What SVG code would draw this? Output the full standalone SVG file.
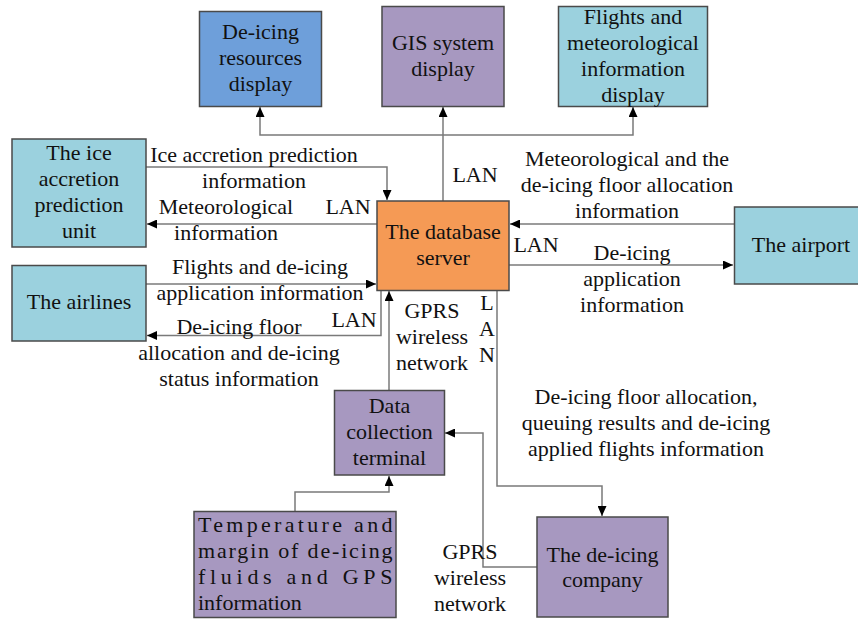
<svg xmlns="http://www.w3.org/2000/svg" width="858" height="619" viewBox="0 0 858 619" font-family="Liberation Serif">
<defs>
<marker id="arr" markerUnits="userSpaceOnUse" markerWidth="11" markerHeight="9" refX="10" refY="4.5" orient="auto">
<path d="M0,0 L10,4.5 L0,9 z" fill="#000"/>
</marker>
<style>
.box{stroke:#4a4a4a;stroke-width:1.5}
.blue{fill:#6E9FDA}
.orange{fill:#F59A55}
.purple{fill:#A798C0}
.cyan{fill:#9BD1DE}
.t{font-size:22px;fill:#111}
.c{text-anchor:middle}
.con path{fill:none;stroke:#7a7a7a;stroke-width:1.5}
.arrow{marker-end:url(#arr)}
</style>
</defs>
<rect width="858" height="619" fill="#fff"/>

<g class="con" id="connectors">
<path class="arrow" d="M443,201 V107"/>
<path class="arrow" d="M443,135 H260 V107"/>
<path class="arrow" d="M443,135 H633 V107"/>
<path class="arrow" d="M146,167 H387 V200"/>
<path class="arrow" d="M377,224 H147"/>
<path class="arrow" d="M146,284 H376"/>
<path class="arrow" d="M381,291 V335.5 H147"/>
<path class="arrow" d="M389,390 V291"/>
<path class="arrow" d="M295,511 V492 H389 V476"/>
<path class="arrow" d="M497,291 V486 H602 V516"/>
<path class="arrow" d="M537,567 H483 V433 H445"/>
<path class="arrow" d="M734,224 H510"/>
<path class="arrow" d="M509,265 H733"/>
</g>

<g id="labels">
<text class="t c" font-family="Liberation Serif" x="254" y="162">Ice accretion prediction</text>
<text class="t c" font-family="Liberation Serif" x="254" y="188">information</text>
<text class="t c" font-family="Liberation Serif" x="226" y="214">Meteorological</text>
<text class="t c" font-family="Liberation Serif" x="226" y="240">information</text>
<text class="t c" font-family="Liberation Serif" x="348" y="214">LAN</text>
<text class="t c" font-family="Liberation Serif" x="260" y="274">Flights and de-icing</text>
<text class="t c" font-family="Liberation Serif" x="260" y="300">application information</text>
<text class="t c" font-family="Liberation Serif" x="354" y="327">LAN</text>
<text class="t c" font-family="Liberation Serif" x="239" y="334">De-icing floor</text>
<text class="t c" font-family="Liberation Serif" x="239" y="360">allocation and de-icing</text>
<text class="t c" font-family="Liberation Serif" x="239" y="386">status information</text>
<text class="t c" font-family="Liberation Serif" x="432" y="318">GPRS</text>
<text class="t c" font-family="Liberation Serif" x="432" y="344">wireless</text>
<text class="t c" font-family="Liberation Serif" x="432" y="370">network</text>
<text class="t c" font-family="Liberation Serif" x="487" y="310">L</text>
<text class="t c" font-family="Liberation Serif" x="487" y="336">A</text>
<text class="t c" font-family="Liberation Serif" x="487" y="362">N</text>
<text class="t c" font-family="Liberation Serif" x="475" y="182">LAN</text>
<text class="t c" font-family="Liberation Serif" x="627" y="166">Meteorological and the</text>
<text class="t c" font-family="Liberation Serif" x="627" y="192">de-icing floor allocation</text>
<text class="t c" font-family="Liberation Serif" x="627" y="218">information</text>
<text class="t c" font-family="Liberation Serif" x="536" y="252">LAN</text>
<text class="t c" font-family="Liberation Serif" x="632" y="260">De-icing</text>
<text class="t c" font-family="Liberation Serif" x="632" y="286">application</text>
<text class="t c" font-family="Liberation Serif" x="632" y="312">information</text>
<text class="t c" font-family="Liberation Serif" x="646" y="404">De-icing floor allocation,</text>
<text class="t c" font-family="Liberation Serif" x="646" y="430">queuing results and de-icing</text>
<text class="t c" font-family="Liberation Serif" x="646" y="456">applied flights information</text>
<text class="t c" font-family="Liberation Serif" x="470" y="559">GPRS</text>
<text class="t c" font-family="Liberation Serif" x="470" y="585">wireless</text>
<text class="t c" font-family="Liberation Serif" x="470" y="611">network</text>
</g>

<g id="deicing-resources-display">
<rect class="box blue" x="199.5" y="11.5" width="122" height="95"/>
<text class="t c" font-family="Liberation Serif" x="260.5" y="39">De-icing</text>
<text class="t c" font-family="Liberation Serif" x="260.5" y="65">resources</text>
<text class="t c" font-family="Liberation Serif" x="260.5" y="91">display</text>
</g>

<g id="gis-display">
<rect class="box purple" x="382" y="6.5" width="122" height="100"/>
<text class="t c" font-family="Liberation Serif" x="443" y="50">GIS system</text>
<text class="t c" font-family="Liberation Serif" x="443" y="76">display</text>
</g>

<g id="flights-display">
<rect class="box cyan" x="558.5" y="6.5" width="149" height="100"/>
<text class="t c" font-family="Liberation Serif" x="633" y="24">Flights and</text>
<text class="t c" font-family="Liberation Serif" x="633" y="50">meteorological</text>
<text class="t c" font-family="Liberation Serif" x="633" y="76">information</text>
<text class="t c" font-family="Liberation Serif" x="633" y="102">display</text>
</g>

<g id="ice-unit">
<rect class="box cyan" x="12" y="139" width="134" height="108"/>
<text class="t c" font-family="Liberation Serif" x="79" y="160">The ice</text>
<text class="t c" font-family="Liberation Serif" x="79" y="186">accretion</text>
<text class="t c" font-family="Liberation Serif" x="79" y="212">prediction</text>
<text class="t c" font-family="Liberation Serif" x="79" y="238">unit</text>
</g>

<g id="airlines">
<rect class="box cyan" x="12" y="265.5" width="134" height="75.5"/>
<text class="t c" font-family="Liberation Serif" x="79" y="309">The airlines</text>
</g>

<g id="database-server">
<rect class="box orange" x="377" y="201" width="132" height="89.5"/>
<text class="t c" font-family="Liberation Serif" x="443" y="239">The database</text>
<text class="t c" font-family="Liberation Serif" x="443" y="265">server</text>
</g>

<g id="airport">
<rect class="box cyan" x="734.5" y="207" width="140" height="77"/>
<text class="t c" font-family="Liberation Serif" x="801" y="252">The airport</text>
</g>

<g id="data-terminal">
<rect class="box purple" x="334.5" y="390.5" width="110" height="84.5"/>
<text class="t c" font-family="Liberation Serif" x="389.5" y="413">Data</text>
<text class="t c" font-family="Liberation Serif" x="389.5" y="439">collection</text>
<text class="t c" font-family="Liberation Serif" x="389.5" y="465">terminal</text>
</g>

<g id="temperature">
<rect class="box purple" x="194" y="511.5" width="202" height="106"/>
<text class="t" font-family="Liberation Serif" x="198" y="532" textLength="194.5" lengthAdjust="spacing">Temperature and</text>
<text class="t" font-family="Liberation Serif" x="198" y="558" textLength="194.5" lengthAdjust="spacing">margin of de-icing</text>
<text class="t" font-family="Liberation Serif" x="198" y="584" textLength="194.5" lengthAdjust="spacing">fluids and GPS</text>
<text class="t" font-family="Liberation Serif" x="198" y="610">information</text>
</g>

<g id="deicing-company">
<rect class="box purple" x="537" y="517" width="131" height="100"/>
<text class="t c" font-family="Liberation Serif" x="602.5" y="562">The de-icing</text>
<text class="t c" font-family="Liberation Serif" x="602.5" y="587">company</text>
</g>
</svg>
